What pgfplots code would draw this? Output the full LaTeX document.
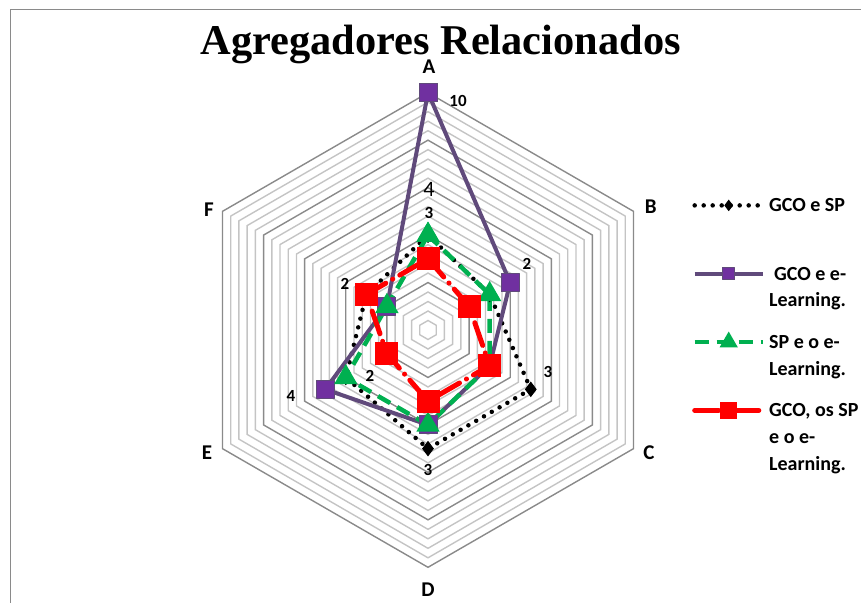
\documentclass[border=0pt]{standalone}
\usepackage{pgfplots}
\pgfplotsset{compat=1.18}
\usepackage{pgfplotstable}
\usepackage{fontspec}
\setmainfont{Carlito}
\newfontfamily\titlefont{Liberation Serif}
\definecolor{gcoel}{HTML}{604A7B}
\definecolor{gcoelfill}{HTML}{7030A0}
\definecolor{spgreen}{HTML}{00B050}
\definecolor{minorgrid}{HTML}{C4C4C4}
\definecolor{majorgrid}{HTML}{8A8A8A}
\newcommand{\LE}[1]{\begin{tabular}[t]{@{}l@{}}#1\end{tabular}}

% angle (deg) and value of each series, first row repeated to close the polygon
\pgfplotstableread{
angle gcosp gcoel spel todos
90    4     10    4    3
30    3     4     3    2
-30   5     3     3    3
-90   5     4     4    3
-150  4     5     4    2
150   3     2     2    3
90    4     10    4    3
}\radar

\begin{document}
\begin{tikzpicture}
\begin{axis}[
  at={(0pt,0pt)}, anchor=south west,
  x=23.73pt, y=23.73pt,
  xmin=-18.036, xmax=18.247, ymin=-11.462, ymax=13.906,
  hide axis, clip=false,
  legend cell align=left,
  legend image code/.code={\draw[mark repeat=2,mark phase=2,yshift=6.5pt] plot coordinates {(0pt,0pt) (34pt,0pt) (68pt,0pt)};},
  legend style={draw=none, fill=none, at={(axis cs:11.125,5.815)}, anchor=north west,
    inner sep=0pt, row sep=12.9pt, column sep=3pt,
    font=\fontsize{20}{26.7}\selectfont\bfseries,
    cells={anchor=base west},
    nodes={inner sep=1pt, text depth=}},
]
% hexagonal grid rings
\pgfplotsinvokeforeach{0.4,0.8,1.2,1.6,2.4,2.8,3.2,3.6,4.4,4.8,5.2,5.6,6.4,6.8,7.2,7.6,8.4,8.8,9.2,9.6}{
  \addplot[minorgrid, line width=1.4pt, forget plot, data cs=polar, line join=miter]
    coordinates {(90,#1) (30,#1) (-30,#1) (-90,#1) (-150,#1) (150,#1) (90,#1) (30,#1)};
}
\pgfplotsinvokeforeach{2,4,6,8,10}{
  \addplot[majorgrid, line width=1.4pt, forget plot, data cs=polar, line join=miter]
    coordinates {(90,#1) (30,#1) (-30,#1) (-90,#1) (-150,#1) (150,#1) (90,#1) (30,#1)};
}
% series
\addplot[black, line width=4.5pt, dash pattern=on 0pt off 9pt, line cap=round,
  mark=diamond*, mark size=7pt, mark options={solid, line width=1pt}, data cs=polar,
  legend image post style={mark size=5pt}]
  table[x=angle, y=gcosp]{\radar};
\addlegendentry{\LE{GCO e SP\\\mbox{}}}
\addplot[gcoel, line width=4pt, line join=round,
  mark=square*, mark size=9pt, mark options={solid, fill=gcoelfill, draw=gcoel, line width=1pt}, data cs=polar,
  legend image post style={mark size=6pt}]
  table[x=angle, y=gcoel]{\radar};
\addlegendentry{\LE{\hspace{5pt}GCO e e-\\Learning.}}
\addplot[spgreen, line width=4.5pt, dash pattern=on 14pt off 8pt,
  mark=triangle*, mark size=9pt, mark options={solid, fill=spgreen}, data cs=polar,
  legend image post style={mark size=6pt}]
  table[x=angle, y=spel]{\radar};
\addlegendentry{\LE{SP e o e-\\Learning.}}
\addplot[red, line width=5pt, dash pattern=on 24pt off 8pt on 0.1pt off 8pt, line cap=round,
  mark=square*, mark size=9pt, mark options={solid, fill=red, line cap=butt}, data cs=polar,
  legend image post style={mark size=6pt}]
  table[x=angle, y=todos]{\radar};
\addlegendentry{\LE{GCO, os SP\\e o e-\\Learning.}}
\end{axis}
% frame
\draw[majorgrid, line width=1pt] (10pt,-5pt) -- (10pt,592pt) -- (870pt,592pt);
% title
\node[anchor=base, font=\titlefont\bfseries\fontsize{42.4}{50}\selectfont] at (440.8pt,547pt) {Agregadores Relacionados};
% category labels
\begin{scope}[every node/.style={font=\fontsize{21}{24}\selectfont\bfseries}]
\node at (429pt,535pt) {A};
\node at (650.7pt,395.3pt) {B};
\node at (649pt,149pt) {C};
\node at (428pt,12pt) {D};
\node at (207pt,149pt) {E};
\node at (209pt,392pt) {F};
\end{scope}
% data labels
\begin{scope}[every node/.style={font=\fontsize{17}{20}\selectfont\bfseries}]
\node at (458pt,501pt) {10};
\node at (429pt,389pt) {3};
\node at (527pt,338pt) {2};
\node at (548pt,230pt) {3};
\node at (428pt,132pt) {3};
\node at (291pt,206pt) {4};
\node at (370pt,226pt) {2};
\node at (345pt,318pt) {2};
\end{scope}
\node[font=\fontsize{22}{24}\selectfont] at (429pt,413pt) {4};
\pgfresetboundingbox
\useasboundingbox (0pt,0pt) rectangle (861pt,602pt);
\end{tikzpicture}
\end{document}
